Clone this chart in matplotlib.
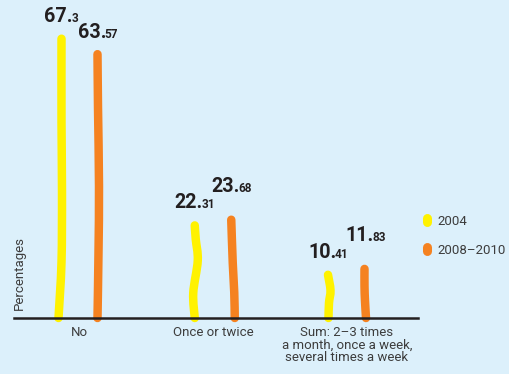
import matplotlib
matplotlib.use("Agg")
import matplotlib.pyplot as plt
from matplotlib.path import Path
from matplotlib.patches import PathPatch
from matplotlib.lines import Line2D
from matplotlib.markers import MarkerStyle
from matplotlib.offsetbox import TextArea, HPacker, AnnotationBbox

plt.rcParams["font.family"] = ["Roboto", "DejaVu Sans"]

# ---- data -----------------------------------------------------------------
categories = ["No", "Once or twice",
              "Sum: 2–3 times\na month, once a week,\nseveral times a week"]
series_names = ["2004", "2008–2010"]
values_2004 = [67.3, 22.31, 10.41]
values_2008_2010 = [63.57, 23.68, 11.83]
y_label = "Percentages"

# ---- style ----------------------------------------------------------------
BG = "#dcf0fb"
COLORS = ["#fff200", "#f58220"]
TEXT_DARK = "#231f20"
TEXT_GRAY = "#3d3d3d"
BAR_LW = 6.1  # points

# hand-drawn wobble of each stroke: (fraction of height, sideways shift in px)
wobble = [
    [[(0, -2.5), (0.2, 0.5), (0.45, 1.0), (0.7, 0.5), (1, 0.5)],
     [(0, 0.0), (0.27, -1.5), (0.62, 3.0), (0.85, 1.0), (1, 0.0)],
     [(0, 0.0), (0.35, 0.5), (0.64, 2.0), (1, -0.5)]],
    [[(0, -0.5), (0.25, 0.5), (0.5, 1.0), (0.8, 0.0), (1, -0.5)],
     [(0, 3.0), (0.26, 2.5), (0.56, 1.0), (1, -0.5)],
     [(0, 0.5), (0.35, -0.5), (0.65, -1.0), (1, -1.0)]],
]
# height of each value label's baseline above the value, in px
label_lift = [[17.5, 18.0, 17.0], [17.0, 28.5, 28.0]]

# ---- figure geometry (pixels) ----------------------------------------------
W, H, DPI = 509, 374, 100
ax_left, ax_right, ax_base, ax_top = 14, 418, 318, 0
first_center, px_per_cat = 79.5, 133.75
bar_offset_px = 18.5
px_per_unit = 4.15

fig = plt.figure(figsize=(W / DPI, H / DPI), dpi=DPI)
fig.patch.set_facecolor(BG)
ax = fig.add_axes([ax_left / W, (H - ax_base) / H,
                   (ax_right - ax_left) / W, (ax_base - ax_top) / H])
ax.set_facecolor(BG)
ax.set_xlim((ax_left - first_center) / px_per_cat,
            (ax_right - first_center) / px_per_cat)
ax.set_ylim(0, (ax_base - ax_top) / px_per_unit)


def wavy_path(x0, top, wob):
    """Smooth Bezier stroke from the baseline up to `top`."""
    pts = [(x0 + dx / px_per_cat, t * top) for t, dx in wob]
    verts, codes = [pts[0]], [Path.MOVETO]
    n = len(pts)
    for i in range(n - 1):
        pp, p0, p1, pn = pts[max(i - 1, 0)], pts[i], pts[i + 1], pts[min(i + 2, n - 1)]
        c1 = (p0[0] + (p1[0] - pp[0]) / 6, p0[1] + (p1[1] - pp[1]) / 6)
        c2 = (p1[0] - (pn[0] - p0[0]) / 6, p1[1] - (pn[1] - p0[1]) / 6)
        verts += [c1, c2, p1]
        codes += [Path.CURVE4] * 3
    return Path(verts, codes)


def value_label(x, v, lift_px):
    whole, frac = str(v).split(".")
    big = TextArea(whole + ".", textprops=dict(fontsize=14.2, fontweight="bold",
                                               color=TEXT_DARK))
    small = TextArea(frac, textprops=dict(fontsize=8.5, fontweight="bold",
                                          color=TEXT_DARK))
    box = HPacker(children=[big, small], align="baseline", pad=0, sep=-1)
    ab = AnnotationBbox(box, (x, v), xycoords="data",
                        xybox=(0, (lift_px - 4.5) * 72 / DPI),
                        boxcoords="offset points", box_alignment=(0.5, 0),
                        frameon=False, pad=0, annotation_clip=False)
    ax.add_artist(ab)


offsets = [-bar_offset_px / px_per_cat, bar_offset_px / px_per_cat]
for s, vals in enumerate([values_2004, values_2008_2010]):
    for i, v in enumerate(vals):
        x = i + offsets[s]
        patch = PathPatch(wavy_path(x, v, wobble[s][i]), fill=False,
                          edgecolor=COLORS[s], linewidth=BAR_LW,
                          capstyle="round", joinstyle="round",
                          clip_on=False, zorder=2)
        ax.add_patch(patch)
        value_label(x, v, label_lift[s][i])

# axes styling
for side in ["left", "top", "right"]:
    ax.spines[side].set_visible(False)
ax.spines["bottom"].set_color(TEXT_DARK)
ax.spines["bottom"].set_linewidth(1.8)
ax.spines["bottom"].set_zorder(5)
ax.set_yticks([])
ax.set_xticks(range(len(categories)), categories, fontsize=9.5,
              color=TEXT_GRAY, linespacing=0.95)
ax.tick_params(axis="x", length=0, pad=6)

ax.set_ylabel(y_label, fontsize=9.5, color=TEXT_GRAY, loc="bottom")
ax.yaxis.set_label_coords((25.5 - ax_left) / (ax_right - ax_left), 8 / ax_base)

# legend with short pill-shaped strokes
handles = [Line2D([], [], linestyle="none",
                  marker=MarkerStyle("|", capstyle="round"),
                  markersize=3, markeredgewidth=6.5, color=c) for c in COLORS]
ax.legend(handles, series_names, loc="center left",
          bbox_to_anchor=(422 / W, (H - 235.75) / H),
          bbox_transform=fig.transFigure, frameon=False,
          handlelength=0.8, handletextpad=0.4, labelspacing=1.2,
          borderpad=0, borderaxespad=0,
          prop=dict(size=9.5), labelcolor=TEXT_GRAY)

fig.savefig("out.png", dpi=DPI, facecolor=BG)
